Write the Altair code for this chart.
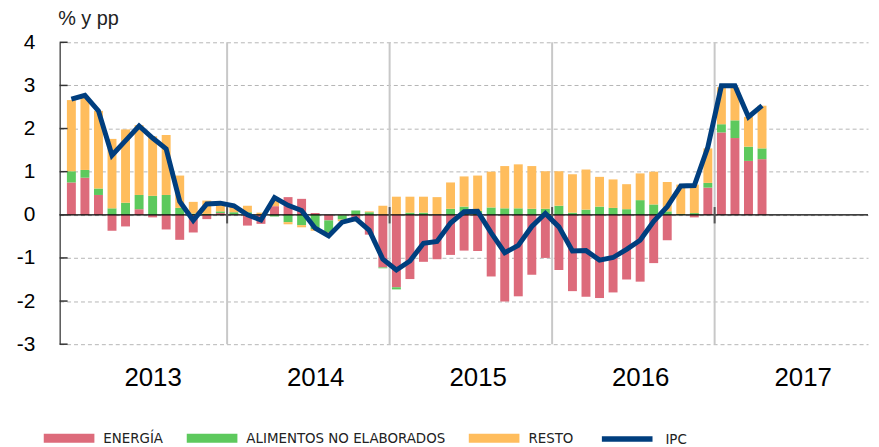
import json
import altair as alt
import pandas as pd

# ---------------- data ----------------
years = ["2013", "2014", "2015", "2016", "2017"]
series_names = ["ENERGÍA", "ALIMENTOS NO ELABORADOS", "RESTO"]
series_colors = ["#dd6b7b", "#5dc95d", "#ffbd5d"]
ipc_name = "IPC"
ipc_color = "#003e7e"

energia = [
    0.75, 0.86, 0.46, -0.37, -0.27, 0.13, -0.06, -0.34, -0.58, -0.41, -0.10, 0.04,
    0.01, -0.25, -0.21, 0.20, 0.41, 0.37, 0.04, -0.13, -0.01, -0.10, -0.46, -1.22,
    -1.68, -1.49, -1.09, -1.03, -0.93, -0.83, -0.84, -1.43, -2.01, -1.89, -1.39, -1.00,
    -1.28, -1.77, -1.90, -1.93, -1.80, -1.50, -1.55, -1.12, -0.59, 0.00, -0.06, 0.63,
    1.91, 1.78, 1.25, 1.29,
]
alimentos = [
    0.26, 0.18, 0.15, 0.15, 0.28, 0.33, 0.44, 0.46, 0.16, 0.03, 0.02, 0.04,
    0.05, 0.06, 0.00, -0.04, -0.17, -0.24, -0.33, -0.27, -0.10, 0.10, 0.06, -0.02,
    -0.05, 0.05, 0.05, 0.01, 0.14, 0.19, 0.09, 0.17, 0.15, 0.15, 0.14, 0.14,
    0.21, 0.05, 0.12, 0.19, 0.16, 0.13, 0.34, 0.24, 0.08, 0.02, 0.04, 0.11,
    0.19, 0.41, 0.33, 0.25,
]
resto = [
    1.65, 1.67, 1.80, 1.61, 1.70, 1.62, 1.38, 1.39, 0.75, 0.27, 0.31, 0.15,
    0.14, 0.15, 0.05, 0.12, -0.05, -0.05, -0.04, -0.06, -0.04, -0.05, 0.02, 0.21,
    0.42, 0.37, 0.37, 0.40, 0.61, 0.70, 0.82, 0.83, 0.98, 1.02, 0.99, 0.87,
    0.80, 0.89, 0.93, 0.69, 0.66, 0.58, 0.62, 0.76, 0.68, 0.68, 0.66, 0.80,
    0.86, 0.76, 0.69, 0.99,
]
ipc = [
    2.68, 2.77, 2.41, 1.38, 1.72, 2.06, 1.78, 1.53, 0.31, -0.13, 0.25, 0.27,
    0.21, 0.00, -0.12, 0.40, 0.22, 0.10, -0.31, -0.49, -0.17, -0.09, -0.36, -1.03,
    -1.28, -1.07, -0.66, -0.62, -0.19, 0.07, 0.08, -0.42, -0.88, -0.71, -0.27, 0.03,
    -0.28, -0.84, -0.83, -1.05, -0.99, -0.80, -0.59, -0.15, 0.19, 0.67, 0.68, 1.57,
    2.99, 2.99, 2.27, 2.53,
]
y_ticks = [-3, -2, -1, 0, 1, 2, 3, 4]

# ---------------- tables ----------------
n = len(ipc)
month_pos = [i + 0.5 for i in range(n)]
rows = []
for k, vals in enumerate([energia, alimentos, resto]):
    for i, v in enumerate(vals):
        rows.append({"t": month_pos[i], "serie": series_names[k], "orden": k, "valor": v})
bars_df = pd.DataFrame(rows)
line_df = pd.DataFrame({"t": month_pos, "valor": ipc, "serie": ipc_name})
year_df = pd.DataFrame({
    "t": [12 * k for k in range(1, len(years))],
    "lo": y_ticks[0], "hi": y_ticks[-1],
    "klo": -0.2, "khi": 0.18,
})
yt_df = pd.DataFrame({"v": y_ticks})
zero_df = pd.DataFrame({"v": [0]})

W, H = 814, 304
months_in_view = 58.96
xscale = alt.Scale(domain=[0, months_in_view], nice=False, zero=False)
yscale = alt.Scale(domain=[y_ticks[0], y_ticks[-1]], nice=False, zero=False)

FONT = "Liberation Sans"
NARROW = "Liberation Sans Narrow, Arial Narrow, DejaVu Sans Condensed, sans-serif"

xaxis = alt.Axis(
    values=[12 * k + 6.5 for k in range(len(years))],
    labelExpr=json.dumps(years) + "[floor(datum.value / 12)]",
    title=None,
)
yaxis = alt.Axis(values=y_ticks, title="% y pp")

X = alt.X("t:Q", scale=xscale, axis=xaxis)

bars = alt.Chart(bars_df).mark_bar(size=9).encode(
    x=X,
    y=alt.Y("valor:Q", stack="zero", scale=yscale, axis=yaxis),
    fill=alt.Fill(
        "serie:N",
        scale=alt.Scale(domain=series_names, range=series_colors),
        sort=series_names,
        legend=alt.Legend(
            orient="none", legendX=-16, legendY=373, direction="horizontal",
            title=None, symbolType="M-1,-0.18H1V0.18H-1Z", symbolSize=2601,
            symbolStrokeWidth=0, symbolOpacity=1, padding=0, labelLimit=0,
            labelFont=NARROW, labelFontSize=15, labelColor="#222222",
            labelOffset=9, columnPadding=23,
        ),
    ),
    order=alt.Order("orden:Q"),
)

year_grid = alt.Chart(year_df).mark_rule(color="#c8c8c8", strokeWidth=2).encode(
    x=X,
    y=alt.Y("lo:Q", scale=yscale, axis=yaxis),
    y2="hi:Q",
)

zero_line = alt.Chart(zero_df).mark_rule(color="black", strokeWidth=1.3).encode(
    y=alt.Y("v:Q", scale=yscale, axis=yaxis),
)

year_ticks = alt.Chart(year_df).mark_rule(color="#555555", strokeWidth=2).encode(
    x=X,
    y=alt.Y("khi:Q", scale=yscale, axis=yaxis),
    y2="klo:Q",
)

y_inner_ticks = alt.Chart(yt_df).mark_rule(color="#333333", strokeWidth=1.5).encode(
    y=alt.Y("v:Q", scale=yscale, axis=yaxis),
    x=alt.value(0),
    x2=alt.value(8),
)

line = alt.Chart(line_df).mark_line(strokeWidth=5).encode(
    x=X,
    y=alt.Y("valor:Q", scale=yscale, axis=yaxis),
    stroke=alt.Stroke(
        "serie:N",
        scale=alt.Scale(domain=[ipc_name], range=[ipc_color]),
        legend=alt.Legend(
            orient="none", legendX=543, legendY=371, title=None,
            symbolType="stroke", symbolSize=2601, symbolStrokeWidth=5.7, padding=0,
            labelFont=NARROW, labelFontSize=15, labelColor="#222222", labelOffset=10,
        ),
    ),
)

chart = (
    alt.layer(year_grid, bars, zero_line, year_ticks, y_inner_ticks, line)
    .resolve_scale(fill="independent", stroke="independent")
    .properties(
        width=W, height=H,
        autosize=alt.AutoSizeParams(type="none"),
        padding={"left": 52, "top": 33, "right": 3, "bottom": 102},
        background="white",
    )
    .configure_view(strokeWidth=0)
    .configure_axisX(
        domain=False, ticks=False, grid=False, labelFlush=False, labelOverlap=False,
        labelPadding=21, labelFontSize=26, labelFont=FONT, labelColor="black",
    )
    .configure_axisY(
        labelExpr="toString(datum.value)",
        domain=True, domainColor="black", domainWidth=1, ticks=False,
        labelPadding=25, labelFontSize=21, labelFont=FONT, labelColor="black",
        labelFlush=False, labelOverlap=False,
        grid=True, gridColor="#b5b5b5", gridDash=[4, 3], gridWidth=1,
        titleAngle=0, titleAlign="left", titleBaseline="alphabetic",
        titleX=-2, titleY=-18, titleFontSize=20, titleFontWeight="normal",
        titleFont=FONT, titleColor="#222222",
    )
)

chart.save("out.html", embed_options={"renderer": "svg", "actions": False})
